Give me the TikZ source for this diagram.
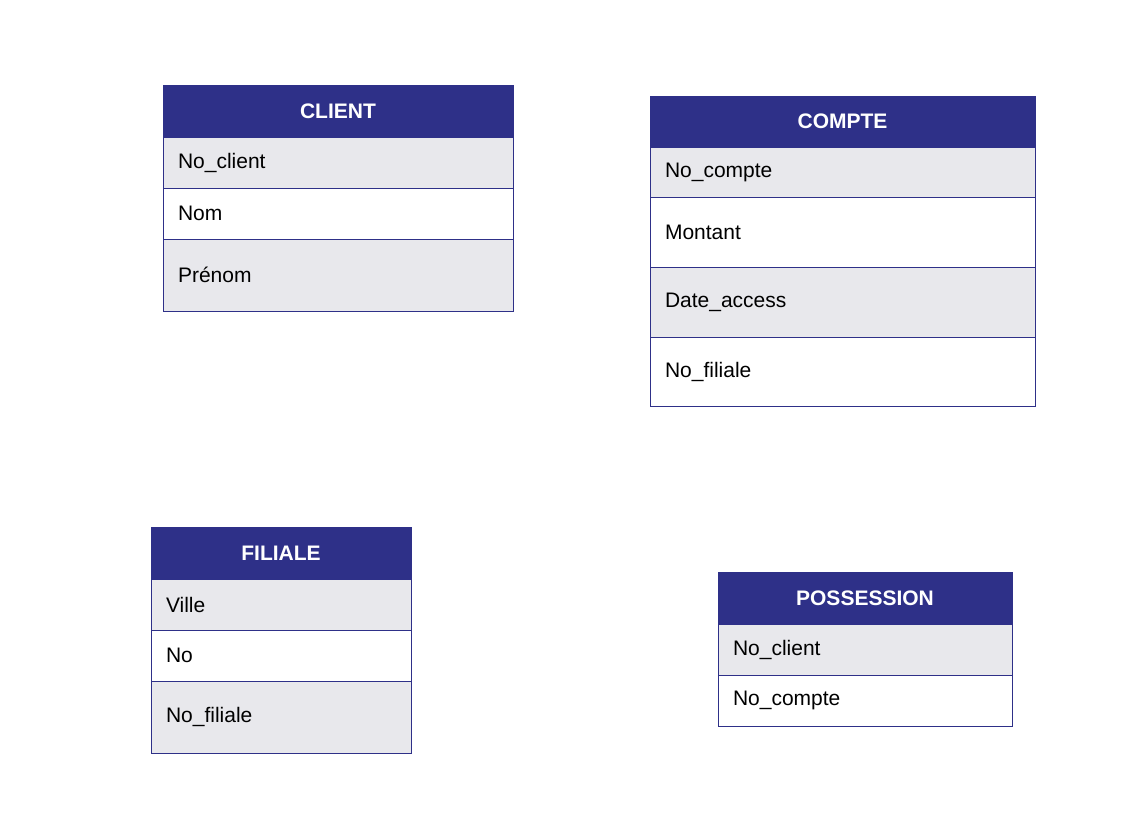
\documentclass[tikz,border=0pt]{standalone}
\usepackage{fontspec}
\setmainfont{Liberation Sans}
\definecolor{hdr}{HTML}{2E3088}
\definecolor{bdr}{HTML}{2E3088}
\definecolor{grey}{HTML}{E8E8EC}
\tikzset{
  cellbase/.style={draw=bdr, line width=1pt, anchor=north west, inner ysep=0pt, outer sep=0pt, font=\fontsize{21}{24}\selectfont},
  hcell/.style={cellbase, fill=hdr, text=white, font=\fontsize{21}{24}\selectfont\bfseries, align=center, inner xsep=0pt},
  gcell/.style={cellbase, fill=grey, align=left, inner xsep=15pt},
  wcell/.style={cellbase, fill=white, align=left, inner xsep=15pt},
}
\newcommand{\hd}[6]{\node[hcell, text width=#4pt, minimum height=#5pt] (#1) at (#2,#3) {#6};}
\newcommand{\rw}[7]{\node[#1, text width=#5pt-30pt, minimum height=#6pt] (#2) at (#3,#4) {#7};}
\begin{document}
\begin{tikzpicture}[x=1pt,y=-1pt]
\useasboundingbox (0,0) rectangle (1127,827);
% CLIENT
\hd{client}{163}{85}{350}{52}{CLIENT}
\rw{gcell}{client1}{163}{137}{350}{51}{No\_client}
\rw{wcell}{client2}{163}{188}{350}{51}{Nom}
\rw{gcell}{client3}{163}{239}{350}{72}{Prénom}
% COMPTE
\hd{compte}{650}{96}{385}{51}{COMPTE}
\rw{gcell}{compte1}{650}{147}{385}{50}{No\_compte}
\rw{wcell}{compte2}{650}{197}{385}{70}{Montant}
\rw{gcell}{compte3}{650}{267}{385}{70}{Date\_access}
\rw{wcell}{compte4}{650}{337}{385}{69}{No\_filiale}
% FILIALE
\hd{filiale}{151}{527}{260}{52}{FILIALE}
\rw{gcell}{filiale1}{151}{579}{260}{51}{Ville}
\rw{wcell}{filiale2}{151}{630}{260}{51}{No}
\rw{gcell}{filiale3}{151}{681}{260}{72}{No\_filiale}
% POSSESSION
\hd{poss}{718}{572}{294}{52}{POSSESSION}
\rw{gcell}{poss1}{718}{624}{294}{51}{No\_client}
\rw{wcell}{poss2}{718}{675}{294}{51}{No\_compte}
\end{tikzpicture}
\end{document}
